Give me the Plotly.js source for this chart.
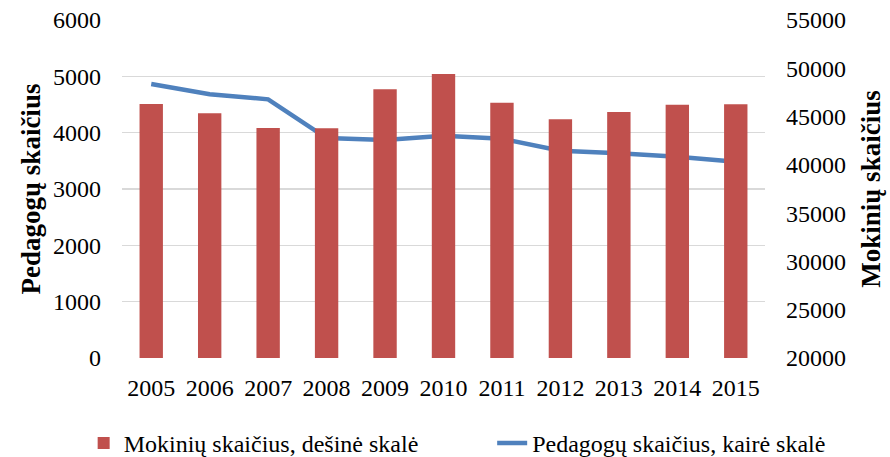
<!DOCTYPE html>
<html>
<head>
<meta charset="utf-8">
<script src="https://cdn.plot.ly/plotly-3.0.1.min.js"></script>
<style>html,body{margin:0;padding:0;background:#fff;}#chart{width:890px;height:457px;}</style>
</head>
<body>
<div id="chart"></div>
<script>
const years = ["2005","2006","2007","2008","2009","2010","2011","2012","2013","2014","2015"];
const mokiniai = [46300, 45340, 43820, 43800, 47820, 49400, 46440, 44710, 45470, 46230, 46270];
const pedagogai = [4864, 4681, 4592, 3905, 3870, 3947, 3893, 3680, 3633, 3574, 3485];
const barName = "Mokinių skaičius, dešinė skalė";
const lineName = "Pedagogų skaičius, kairė skalė";
const leftTitle = "Pedagogų skaičius";
const rightTitle = "Mokinių skaičius";
const rightTicks = [20000, 25000, 30000, 35000, 40000, 45000, 50000, 55000];

const font = "'Liberation Serif', 'Times New Roman', serif";
const base = rightTicks[0];

const traces = [
  {type:"bar", x:years, y:mokiniai.map(v => v - base), yaxis:"y2", name:barName,
   marker:{color:"#c0504d"}, legend:"legend"},
  {type:"scatter", mode:"lines", x:years, y:pedagogai, yaxis:"y", name:lineName,
   line:{color:"#4f81bd", width:4.5}, legend:"legend2"}
];

const legendCommon = {orientation:"h", xanchor:"left", yref:"container", y:0.03, yanchor:"middle",
  font:{family:font, size:24, color:"#000"}, bgcolor:"rgba(0,0,0,0)"};

const layout = {
  width:890, height:457,
  margin:{l:122, r:125, t:20, b:99},
  paper_bgcolor:"#fff", plot_bgcolor:"#fff",
  font:{family:font, size:24, color:"#000"},
  bargap:0.6,
  showlegend:true,
  legend:Object.assign({}, legendCommon, {xref:"container", x:0.094}),
  legend2:Object.assign({}, legendCommon, {xref:"container", x:0.553}),
  xaxis:{type:"category", showgrid:false, zeroline:false, showline:false,
         ticks:"", ticklabelstandoff:13, tickfont:{family:font, size:24, color:"#000"}},
  yaxis:{range:[0,6000], dtick:1000, showgrid:true, gridcolor:"#d9d9d9", gridwidth:1.3,
         zeroline:false, showline:false, ticks:"", ticklabelstandoff:20,
         tickfont:{family:font, size:24, color:"#000"},
         title:{text:"<b>"+leftTitle+"</b>", font:{family:font, size:27, color:"#000"}, standoff:4}},
  yaxis2:{overlaying:"y", side:"right", range:[0, rightTicks[rightTicks.length-1]-base],
          tickvals:rightTicks.map(v => v - base), ticktext:rightTicks.map(String),
          showgrid:false, zeroline:false, showline:false, ticks:"", ticklabelstandoff:20,
          tickfont:{family:font, size:24, color:"#000"},
          title:{text:"<b>"+rightTitle+"</b>", font:{family:font, size:27, color:"#000"}, standoff:16}}
};

Plotly.newPlot("chart", traces, layout, {displayModeBar:false, staticPlot:true});
</script>
</body>
</html>
